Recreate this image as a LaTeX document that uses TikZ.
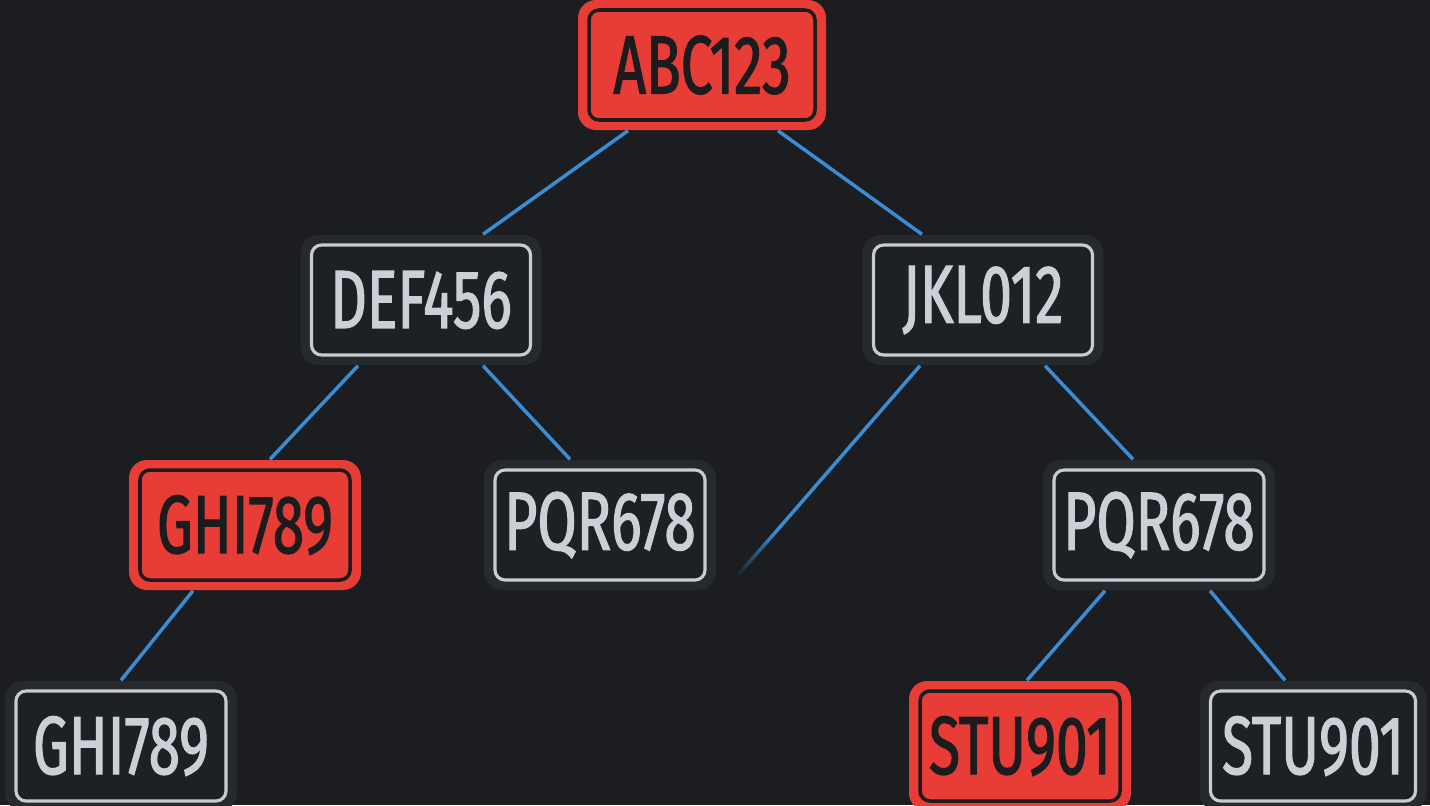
\documentclass[tikz,border=0pt]{standalone}
\usepackage{fontspec}
\setmainfont{Fira Sans}[FakeStretch=0.69, FakeBold=1.4]
\usetikzlibrary{positioning,fadings}
\definecolor{bgdark}{HTML}{1B1D21}
\definecolor{plateout}{HTML}{26292D}
\definecolor{platein}{HTML}{1D2024}
\definecolor{platerim}{HTML}{C5CDD2}
\definecolor{platetext}{HTML}{C9D1D6}
\definecolor{platered}{HTML}{E73D36}
\definecolor{redrim}{HTML}{1C1C1E}
\definecolor{edgeblue}{HTML}{3A8CD4}
\tikzfading[name=tailfade, top color=transparent!0, bottom color=transparent!100]

\begin{document}
\begin{tikzpicture}[
        node distance=2.35cm and 2.81cm, on grid,
        plate/.style={rounded corners=0.18cm, fill=plateout, text=platetext,
                      font=\fontsize{23.5}{24}\selectfont, inner xsep=0.2cm,
                      minimum width=2.32cm, minimum height=1.3cm,
                      path picture={\draw[line width=0.9pt, draw=platerim, fill=platein,
                          rounded corners=0.1cm]
                          ([shift={(0.11cm,0.1cm)}]path picture bounding box.south west)
                          rectangle ([shift={(-0.11cm,-0.1cm)}]path picture bounding box.north east);}},
        platered/.style={plate, fill=platered, text=redrim,
                      path picture={\draw[line width=1pt, draw=redrim, fill=platered,
                          rounded corners=0.1cm]
                          ([shift={(0.11cm,0.1cm)}]path picture bounding box.south west)
                          rectangle ([shift={(-0.11cm,-0.1cm)}]path picture bounding box.north east);}},
        edge/.style={line width=1pt, edgeblue}
    ]
        \fill[bgdark] (0,0) rectangle (14.3,-8.05);
        \useasboundingbox (0,0) rectangle (14.3,-8.05);

        \node[platered, minimum width=2.48cm] (abc) at (7.02,-0.65) {ABC123};
        \node[plate, minimum width=2.41cm, below left=of abc]  (def) {DEF456};
        \node[plate, minimum width=2.41cm, below right=of abc] (jkl) {JKL012};
        \node[platered, below left=2.25cm and 1.76cm of def]  (ghired) {GHI789};
        \node[plate, below right=2.25cm and 1.79cm of def]    (pqrmid) {PQR678};
        \node[plate, below right=2.25cm and 1.76cm of jkl]    (pqrright) {PQR678};
        \node[plate, below left=2.21cm and 1.24cm of ghired]  (ghilow) {GHI789};
        \node[platered, minimum width=2.2cm, below left=2.21cm and 1.39cm of pqrright]  (stured) {STU901};
        \node[plate, minimum width=2.27cm, below right=2.21cm and 1.54cm of pqrright]    (stulow) {STU901};

        \coordinate (tailmid) at (7.744,-5.334);
        \coordinate (tail)    at (7.38,-5.75);

        \draw[edge] ([xshift=-0.74cm]abc.south) -- ([xshift=0.62cm]def.north);
        \draw[edge] ([xshift=0.76cm]abc.south)  -- ([xshift=-0.61cm]jkl.north);
        \draw[edge] ([xshift=-0.63cm]def.south) -- ([xshift=0.25cm]ghired.north);
        \draw[edge] ([xshift=0.62cm]def.south)  -- ([xshift=-0.30cm]pqrmid.north);
        \draw[edge] ([xshift=-0.63cm]jkl.south) -- (tailmid);
        \draw[edge, path fading=tailfade] (tailmid) -- (tail);
        \draw[edge] ([xshift=0.62cm]jkl.south)  -- ([xshift=-0.26cm]pqrright.north);
        \draw[edge] ([xshift=-0.52cm]ghired.south) -- (ghilow.north);
        \draw[edge] ([xshift=-0.54cm]pqrright.south) -- ([xshift=0.07cm]stured.north);
        \draw[edge] ([xshift=0.51cm]pqrright.south)  -- ([xshift=-0.28cm]stulow.north);
    \end{tikzpicture}
\end{document}
